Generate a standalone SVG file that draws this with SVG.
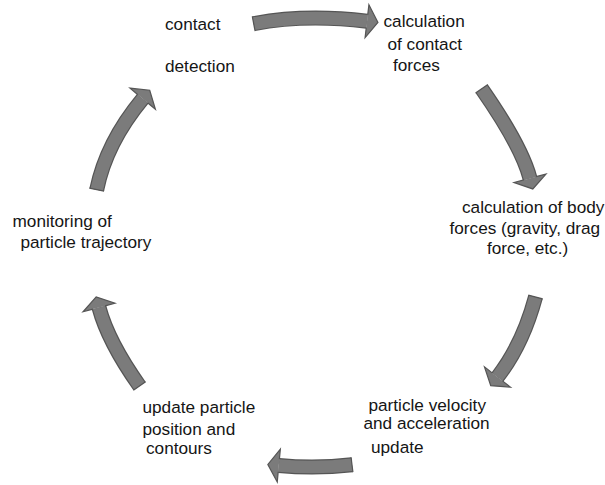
<svg xmlns="http://www.w3.org/2000/svg" width="605" height="485" viewBox="0 0 605 485">
<defs>
<style>
.lbl{font-family:"Liberation Sans",Arial,sans-serif;font-size:17.2px;fill:#151515}
.edge{fill:none;stroke:#555555;stroke-width:15}
.body{fill:none;stroke:#7b7b7b;stroke-width:12.6}
</style>
<marker id="head" markerUnits="userSpaceOnUse" orient="auto" refX="0" refY="0" markerWidth="40" markerHeight="40" overflow="visible">
<path d="M0,-6.3 L0,-16.5 L11,0 L0,16.5 L0,6.3" fill="#7b7b7b" stroke="#555555" stroke-width="1.2" stroke-linejoin="miter"/>
</marker>
<marker id="tail" markerUnits="userSpaceOnUse" orient="auto" refX="0" refY="0" markerWidth="20" markerHeight="20" overflow="visible">
<path d="M0,-7.5 L0,7.5" fill="none" stroke="#555555" stroke-width="1.2"/>
</marker>
</defs>
<rect width="605" height="485" fill="#ffffff"/>
<g id="connectors">
<g id="a1"><path class="edge" d="M253.7,23.7 Q304.4,13.9 367,21.2"/><path class="body" marker-start="url(#tail)" marker-end="url(#head)" d="M253.7,23.7 Q304.4,13.9 367,21.2"/></g>
<g id="a2"><path class="edge" d="M481.7,88.8 Q521.5,146 530,178.3"/><path class="body" marker-start="url(#tail)" marker-end="url(#head)" d="M481.7,88.8 Q521.5,146 530,178.3"/></g>
<g id="a3"><path class="edge" d="M535.5,297 Q522.6,344.8 497.5,377"/><path class="body" marker-start="url(#tail)" marker-end="url(#head)" d="M535.5,297 Q522.6,344.8 497.5,377"/></g>
<g id="a4"><path class="edge" d="M352,464.7 Q316,469 278.8,465.5"/><path class="body" marker-start="url(#tail)" marker-end="url(#head)" d="M352,464.7 Q316,469 278.8,465.5"/></g>
<g id="a5"><path class="edge" d="M139.5,386 Q108.1,341.6 99,307.5"/><path class="body" marker-start="url(#tail)" marker-end="url(#head)" d="M139.5,386 Q108.1,341.6 99,307.5"/></g>
<g id="a6"><path class="edge" d="M96.7,189.7 Q106.3,142.6 142.7,98.7"/><path class="body" marker-start="url(#tail)" marker-end="url(#head)" d="M96.7,189.7 Q106.3,142.6 142.7,98.7"/></g>
</g>
<g id="contact-detection">
<text class="lbl" x="165" y="30">contact</text>
<text class="lbl" x="165" y="71.5">detection</text>
</g>
<g id="contact-forces">
<text class="lbl" x="383.5" y="27">calculation</text>
<text class="lbl" x="387.5" y="49.5">of contact</text>
<text class="lbl" x="393" y="71">forces</text>
</g>
<g id="body-forces">
<text class="lbl" x="462" y="212.5">calculation of body</text>
<text class="lbl" x="449.5" y="233.5">forces (gravity, drag</text>
<text class="lbl" x="487" y="254">force, etc.)</text>
</g>
<g id="velocity-update">
<text class="lbl" x="368.5" y="410.5">particle velocity</text>
<text class="lbl" x="363.5" y="428.5">and acceleration</text>
<text class="lbl" x="371" y="452.5">update</text>
</g>
<g id="position-update">
<text class="lbl" x="142.5" y="413">update particle</text>
<text class="lbl" x="142.5" y="435">position and</text>
<text class="lbl" x="146" y="454">contours</text>
</g>
<g id="trajectory-monitoring">
<text class="lbl" x="12.5" y="227">monitoring of</text>
<text class="lbl" x="20.5" y="248">particle trajectory</text>
</g>
</svg>
